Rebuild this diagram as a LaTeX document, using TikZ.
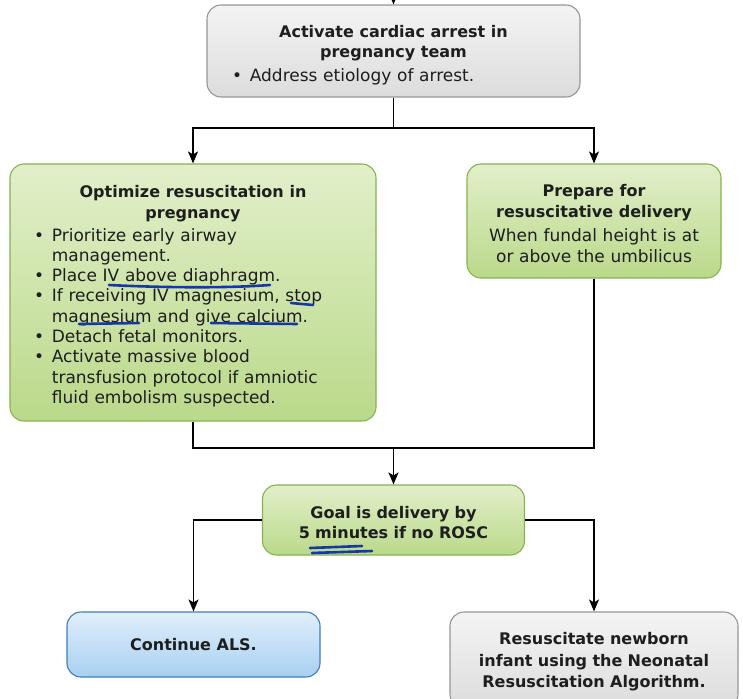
\documentclass[tikz,border=0pt]{standalone}
\usepackage{fontspec}
\setmainfont{DejaVu Sans}
\usetikzlibrary{arrows.meta}
\definecolor{ink}{RGB}{30,30,30}
\definecolor{grayline}{RGB}{150,150,150}
\definecolor{grayhi}{RGB}{244,244,244}
\definecolor{graylo}{RGB}{220,220,220}
\definecolor{greenline}{RGB}{132,180,78}
\definecolor{greenhi}{RGB}{226,239,202}
\definecolor{greenlo}{RGB}{186,217,138}
\definecolor{blueline}{RGB}{64,124,186}
\definecolor{bluehi}{RGB}{224,239,251}
\definecolor{bluelo}{RGB}{168,208,241}
\definecolor{marker}{RGB}{22,56,165}

% bullet line with hanging indent
\newcommand{\bul}[1]{\par\hangindent=1.05em\hangafter=1\noindent\makebox[1.05em][l]{\textbullet}#1\par}
\newcommand{\headline}[1]{{\centering\bfseries\fontsize{16}{20.8}\selectfont #1\par}}
% invisible strut that pushes the first line down
\newcommand{\lift}[1]{\rule{0pt}{#1}}

\tikzset{
  box/.style={rounded corners=14pt,draw,line width=1.1pt,inner sep=0pt,text=ink,
    font=\fontsize{17}{20.3}\selectfont},
  graybox/.style={box,draw=grayline,top color=grayhi,bottom color=graylo},
  greenbox/.style={box,draw=greenline,top color=greenhi,bottom color=greenlo},
  bluebox/.style={box,draw=blueline,top color=bluehi,bottom color=bluelo},
  arr/.style={-{Stealth[length=12pt,width=10pt,inset=3pt]}},
  pen/.style={draw=marker,line width=2.6pt,line cap=round}
}

\begin{document}
\begin{tikzpicture}[x=1pt,y=-1pt,line width=1.6pt]
  \useasboundingbox (0,0) rectangle (743,698);

  % boxes, centred on their pixel positions
  \node[graybox,minimum width=373pt,minimum height=92pt,text width=323pt] (team) at (393.5,51) {%
    \headline{\lift{20pt}Activate cardiac arrest in\\ pregnancy team}\vspace{3pt}
    \bul{Address etiology of arrest.}};
  \node[greenbox,minimum width=366pt,minimum height=257pt,text width=318pt] (optim) at (193,292.5) {%
    \headline{\lift{20pt}Optimize resuscitation in\\ pregnancy}\vspace{2pt}
    \bul{Prioritize early airway\newline management.}
    \bul{Place IV above diaphragm.}
    \bul{If receiving IV magnesium, stop\newline magnesium and give calcium.}
    \bul{Detach fetal monitors.}
    \bul{Activate massive blood\newline transfusion protocol if amniotic\newline fluid embolism suspected.}};
  \node[greenbox,minimum width=254pt,minimum height=114pt,text width=240pt,align=center,
    font=\fontsize{17}{21}\selectfont] (prep) at (594,221) {%
    {\bfseries\fontsize{16}{20.8}\selectfont\lift{18pt}Prepare for\\ resuscitative delivery\par}\vspace{3pt}
    When fundal height is at\\ or above the umbilicus};
  \node[greenbox,minimum width=262pt,minimum height=70pt,text width=240pt,align=center,
    font=\bfseries\fontsize{16}{20.5}\selectfont] (goal) at (393.5,520) {\lift{17pt}Goal is delivery by\\ 5 minutes if no ROSC};
  \node[bluebox,minimum width=253pt,minimum height=65pt,font=\bfseries\fontsize{16}{20.5}\selectfont] (als) at (193.5,644.5) {Continue ALS.};
  \node[graybox,minimum width=288pt,minimum height=96pt,text width=260pt,align=center,
    font=\bfseries\fontsize{16}{21.5}\selectfont] (nrp) at (594,660) {\lift{16pt}Resuscitate newborn\\ infant using the Neonatal\\ Resuscitation Algorithm.};

  % connectors
  \coordinate (entry) at (393.5,-12);
  \coordinate (split) at (393.5,128);
  \coordinate (join) at (393.5,448);
  \draw[arr] (entry) -- (team.north);
  \draw (team.south) -- (split);
  \draw[arr] (split) -| (optim.north);
  \draw[arr] (split) -| (prep.north);
  \draw (optim.south) |- (join);
  \draw (prep.south) |- (join);
  \draw[arr] (join) -- (goal.north);
  \draw[arr] (goal.west) -| (als.north);
  \draw[arr] (goal.east) -| (nrp.north);

  % marker strokes
  \draw[pen] (109,285) .. controls (170,288) and (230,288) .. (270,285);
  \draw[pen] (291,303) -- (313,305);
  \draw[pen] (79,324) -- (139,323);
  \draw[pen] (211,323) -- (297,324);
  \draw[pen] (310,548) -- (362,546);
  \draw[pen] (312,553) -- (372,551);
\end{tikzpicture}
\end{document}
